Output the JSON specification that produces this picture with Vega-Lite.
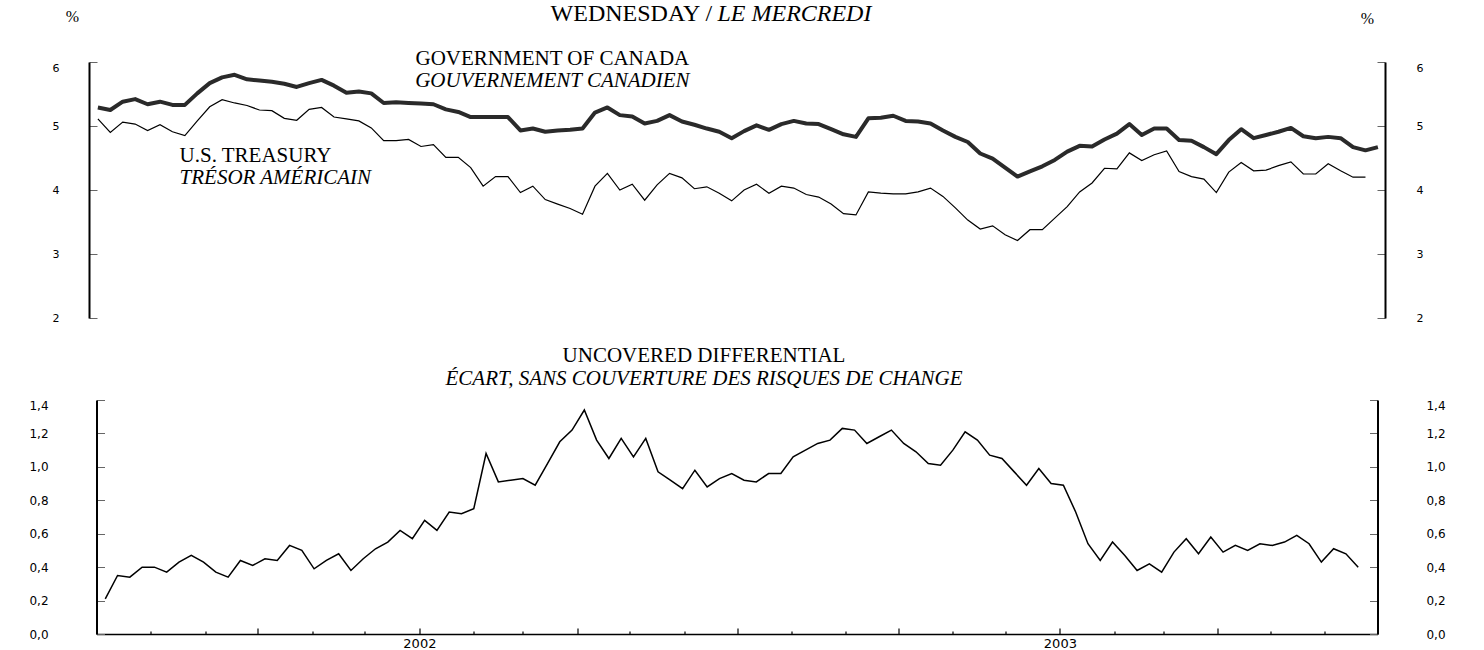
{
  "$schema": "https://vega.github.io/schema/vega-lite/v6.json",
  "background": "white",
  "padding": {"left": 28, "top": 2, "right": 0, "bottom": 0},
  "bounds": "flush",
  "center": true,
  "spacing": 82,
  "config": {"view": {"stroke": null}, "axis": {"grid": false}},
  "datasets": {
    "weekly": [
      {"d": "2001-07-06", "ca": 5.29, "us": 5.11, "diff": 0.21},
      {"d": "2001-07-13", "ca": 5.25, "us": 4.90, "diff": 0.35},
      {"d": "2001-07-20", "ca": 5.38, "us": 5.06, "diff": 0.34},
      {"d": "2001-07-27", "ca": 5.42, "us": 5.03, "diff": 0.40},
      {"d": "2001-08-03", "ca": 5.34, "us": 4.93, "diff": 0.40},
      {"d": "2001-08-10", "ca": 5.38, "us": 5.02, "diff": 0.37},
      {"d": "2001-08-17", "ca": 5.33, "us": 4.91, "diff": 0.43},
      {"d": "2001-08-24", "ca": 5.33, "us": 4.85, "diff": 0.47},
      {"d": "2001-08-31", "ca": 5.51, "us": 5.08, "diff": 0.43},
      {"d": "2001-09-07", "ca": 5.67, "us": 5.30, "diff": 0.37},
      {"d": "2001-09-14", "ca": 5.76, "us": 5.41, "diff": 0.34},
      {"d": "2001-09-21", "ca": 5.80, "us": 5.36, "diff": 0.44},
      {"d": "2001-09-28", "ca": 5.73, "us": 5.32, "diff": 0.41},
      {"d": "2001-10-05", "ca": 5.71, "us": 5.25, "diff": 0.45},
      {"d": "2001-10-12", "ca": 5.69, "us": 5.24, "diff": 0.44},
      {"d": "2001-10-19", "ca": 5.66, "us": 5.12, "diff": 0.53},
      {"d": "2001-10-26", "ca": 5.61, "us": 5.09, "diff": 0.50},
      {"d": "2001-11-02", "ca": 5.67, "us": 5.26, "diff": 0.39},
      {"d": "2001-11-09", "ca": 5.72, "us": 5.29, "diff": 0.44},
      {"d": "2001-11-16", "ca": 5.63, "us": 5.14, "diff": 0.48},
      {"d": "2001-11-23", "ca": 5.52, "us": 5.11, "diff": 0.38},
      {"d": "2001-11-30", "ca": 5.54, "us": 5.08, "diff": 0.45},
      {"d": "2001-12-07", "ca": 5.51, "us": 4.97, "diff": 0.51},
      {"d": "2001-12-14", "ca": 5.36, "us": 4.77, "diff": 0.55},
      {"d": "2001-12-21", "ca": 5.37, "us": 4.77, "diff": 0.62},
      {"d": "2001-12-28", "ca": 5.36, "us": 4.79, "diff": 0.57},
      {"d": "2002-01-04", "ca": 5.35, "us": 4.68, "diff": 0.68},
      {"d": "2002-01-11", "ca": 5.34, "us": 4.71, "diff": 0.62},
      {"d": "2002-01-18", "ca": 5.26, "us": 4.51, "diff": 0.73},
      {"d": "2002-01-25", "ca": 5.22, "us": 4.51, "diff": 0.72},
      {"d": "2002-02-01", "ca": 5.14, "us": 4.35, "diff": 0.75},
      {"d": "2002-02-08", "ca": 5.14, "us": 4.06, "diff": 1.08},
      {"d": "2002-02-15", "ca": 5.14, "us": 4.21, "diff": 0.91},
      {"d": "2002-02-22", "ca": 5.14, "us": 4.21, "diff": 0.92},
      {"d": "2002-03-01", "ca": 4.93, "us": 3.96, "diff": 0.93},
      {"d": "2002-03-08", "ca": 4.96, "us": 4.06, "diff": 0.89},
      {"d": "2002-03-15", "ca": 4.91, "us": 3.85, "diff": 1.02},
      {"d": "2002-03-22", "ca": 4.93, "us": 3.78, "diff": 1.15},
      {"d": "2002-03-29", "ca": 4.94, "us": 3.71, "diff": 1.22},
      {"d": "2002-04-05", "ca": 4.96, "us": 3.62, "diff": 1.34},
      {"d": "2002-04-12", "ca": 5.21, "us": 4.06, "diff": 1.16},
      {"d": "2002-04-19", "ca": 5.29, "us": 4.26, "diff": 1.05},
      {"d": "2002-04-26", "ca": 5.17, "us": 4.00, "diff": 1.17},
      {"d": "2002-05-03", "ca": 5.15, "us": 4.09, "diff": 1.06},
      {"d": "2002-05-10", "ca": 5.04, "us": 3.84, "diff": 1.17},
      {"d": "2002-05-17", "ca": 5.08, "us": 4.08, "diff": 0.97},
      {"d": "2002-05-24", "ca": 5.17, "us": 4.26, "diff": 0.92},
      {"d": "2002-05-31", "ca": 5.07, "us": 4.19, "diff": 0.87},
      {"d": "2002-06-07", "ca": 5.02, "us": 4.02, "diff": 0.98},
      {"d": "2002-06-14", "ca": 4.96, "us": 4.05, "diff": 0.88},
      {"d": "2002-06-21", "ca": 4.91, "us": 3.95, "diff": 0.93},
      {"d": "2002-06-28", "ca": 4.81, "us": 3.83, "diff": 0.96},
      {"d": "2002-07-05", "ca": 4.92, "us": 4.00, "diff": 0.92},
      {"d": "2002-07-12", "ca": 5.01, "us": 4.09, "diff": 0.91},
      {"d": "2002-07-19", "ca": 4.94, "us": 3.95, "diff": 0.96},
      {"d": "2002-07-26", "ca": 5.03, "us": 4.06, "diff": 0.96},
      {"d": "2002-08-02", "ca": 5.08, "us": 4.03, "diff": 1.06},
      {"d": "2002-08-09", "ca": 5.04, "us": 3.93, "diff": 1.10},
      {"d": "2002-08-16", "ca": 5.03, "us": 3.89, "diff": 1.14},
      {"d": "2002-08-23", "ca": 4.95, "us": 3.78, "diff": 1.16},
      {"d": "2002-08-30", "ca": 4.87, "us": 3.63, "diff": 1.23},
      {"d": "2002-09-06", "ca": 4.83, "us": 3.61, "diff": 1.22},
      {"d": "2002-09-13", "ca": 5.12, "us": 3.97, "diff": 1.14},
      {"d": "2002-09-20", "ca": 5.13, "us": 3.95, "diff": 1.18},
      {"d": "2002-09-27", "ca": 5.16, "us": 3.94, "diff": 1.22},
      {"d": "2002-10-04", "ca": 5.08, "us": 3.94, "diff": 1.14},
      {"d": "2002-10-11", "ca": 5.07, "us": 3.97, "diff": 1.09},
      {"d": "2002-10-18", "ca": 5.04, "us": 4.03, "diff": 1.02},
      {"d": "2002-10-25", "ca": 4.93, "us": 3.90, "diff": 1.01},
      {"d": "2002-11-01", "ca": 4.83, "us": 3.72, "diff": 1.10},
      {"d": "2002-11-08", "ca": 4.75, "us": 3.53, "diff": 1.21},
      {"d": "2002-11-15", "ca": 4.57, "us": 3.39, "diff": 1.16},
      {"d": "2002-11-22", "ca": 4.49, "us": 3.44, "diff": 1.07},
      {"d": "2002-11-29", "ca": 4.35, "us": 3.30, "diff": 1.05},
      {"d": "2002-12-06", "ca": 4.21, "us": 3.21, "diff": 0.97},
      {"d": "2002-12-13", "ca": 4.29, "us": 3.38, "diff": 0.89},
      {"d": "2002-12-20", "ca": 4.37, "us": 3.38, "diff": 0.99},
      {"d": "2002-12-27", "ca": 4.47, "us": 3.56, "diff": 0.90},
      {"d": "2003-01-03", "ca": 4.60, "us": 3.74, "diff": 0.89},
      {"d": "2003-01-10", "ca": 4.69, "us": 3.97, "diff": 0.73},
      {"d": "2003-01-17", "ca": 4.68, "us": 4.11, "diff": 0.54},
      {"d": "2003-01-24", "ca": 4.79, "us": 4.34, "diff": 0.44},
      {"d": "2003-01-31", "ca": 4.88, "us": 4.33, "diff": 0.55},
      {"d": "2003-02-07", "ca": 5.03, "us": 4.58, "diff": 0.47},
      {"d": "2003-02-14", "ca": 4.86, "us": 4.46, "diff": 0.38},
      {"d": "2003-02-21", "ca": 4.96, "us": 4.55, "diff": 0.42},
      {"d": "2003-02-28", "ca": 4.96, "us": 4.61, "diff": 0.37},
      {"d": "2003-03-07", "ca": 4.78, "us": 4.29, "diff": 0.49},
      {"d": "2003-03-14", "ca": 4.77, "us": 4.21, "diff": 0.57},
      {"d": "2003-03-21", "ca": 4.67, "us": 4.17, "diff": 0.48},
      {"d": "2003-03-28", "ca": 4.56, "us": 3.96, "diff": 0.58},
      {"d": "2003-04-04", "ca": 4.78, "us": 4.28, "diff": 0.49},
      {"d": "2003-04-11", "ca": 4.95, "us": 4.43, "diff": 0.53},
      {"d": "2003-04-18", "ca": 4.81, "us": 4.30, "diff": 0.50},
      {"d": "2003-04-25", "ca": 4.86, "us": 4.31, "diff": 0.54},
      {"d": "2003-05-02", "ca": 4.91, "us": 4.38, "diff": 0.53},
      {"d": "2003-05-09", "ca": 4.97, "us": 4.44, "diff": 0.55},
      {"d": "2003-05-16", "ca": 4.84, "us": 4.25, "diff": 0.59},
      {"d": "2003-05-23", "ca": 4.81, "us": 4.25, "diff": 0.54},
      {"d": "2003-05-30", "ca": 4.83, "us": 4.41, "diff": 0.43},
      {"d": "2003-06-06", "ca": 4.81, "us": 4.30, "diff": 0.51},
      {"d": "2003-06-13", "ca": 4.67, "us": 4.20, "diff": 0.48},
      {"d": "2003-06-20", "ca": 4.62, "us": 4.20, "diff": 0.40},
      {"d": "2003-06-27", "ca": 4.67, "us": null, "diff": null}
    ]
  },
  "vconcat": [
    {
      "width": 1296,
      "height": 256,
      "data": {"name": "weekly"},
      "layer": [
        {
          "layer": [
            {
              "mark": {"type": "line", "color": "#2a2a2a", "strokeWidth": 4, "strokeJoin": "round"},
              "encoding": {
                "x": {"field": "d", "type": "temporal", "scale": {"type": "utc", "domain": [{"year": 2001, "month": 7, "date": 1, "utc": true}, {"year": 2003, "month": 7, "date": 1, "utc": true}]}, "axis": null},
                "y": {"field": "ca", "type": "quantitative", "scale": {"domain": [2, 6]}, "axis": null}
              }
            },
            {
              "mark": {"type": "line", "color": "black", "strokeWidth": 1.2},
              "encoding": {
                "x": {"field": "d", "type": "temporal", "axis": null},
                "y": {"field": "us", "type": "quantitative", "axis": null}
              }
            },
            {
              "data": {"values": [{}]},
              "mark": {"type": "text", "text": "GOVERNMENT OF CANADA", "align": "center", "baseline": "alphabetic", "font": "Liberation Serif", "fontSize": 21, "color": "black"},
              "encoding": {
                "x": {"datum": {"year": 2002, "month": 3, "date": 19, "utc": true}, "type": "temporal", "axis": null},
                "y": {"datum": 5.953, "type": "quantitative", "axis": null}
              }
            },
            {
              "data": {"values": [{}]},
              "mark": {"type": "text", "text": "GOUVERNEMENT CANADIEN", "align": "center", "baseline": "alphabetic", "font": "Liberation Serif", "fontSize": 21, "fontStyle": "italic", "color": "black"},
              "encoding": {
                "x": {"datum": {"year": 2002, "month": 3, "date": 19, "utc": true}, "type": "temporal", "axis": null},
                "y": {"datum": 5.609, "type": "quantitative", "axis": null}
              }
            },
            {
              "data": {"values": [{}]},
              "mark": {"type": "text", "text": "U.S. TREASURY", "align": "left", "baseline": "alphabetic", "font": "Liberation Serif", "fontSize": 21, "color": "black"},
              "encoding": {
                "x": {"datum": {"year": 2001, "month": 8, "date": 21, "utc": true}, "type": "temporal", "axis": null},
                "y": {"datum": 4.4375, "type": "quantitative", "axis": null}
              }
            },
            {
              "data": {"values": [{}]},
              "mark": {"type": "text", "text": "TRÉSOR AMÉRICAIN", "align": "left", "baseline": "alphabetic", "font": "Liberation Serif", "fontSize": 21, "fontStyle": "italic", "color": "black"},
              "encoding": {
                "x": {"datum": {"year": 2001, "month": 8, "date": 21, "utc": true}, "type": "temporal", "axis": null},
                "y": {"datum": 4.094, "type": "quantitative", "axis": null}
              }
            },
            {
              "data": {"values": [{}]},
              "mark": {"type": "text", "text": "WEDNESDAY /", "align": "right", "baseline": "alphabetic", "font": "Liberation Serif", "fontSize": 24, "color": "black"},
              "encoding": {
                "x": {"datum": {"year": 2002, "month": 6, "date": 17, "utc": true}, "type": "temporal", "axis": null},
                "y": {"datum": 6.64, "type": "quantitative", "axis": null}
              }
            },
            {
              "data": {"values": [{}]},
              "mark": {"type": "text", "text": "LE MERCREDI", "align": "left", "baseline": "alphabetic", "font": "Liberation Serif", "fontSize": 24, "fontStyle": "italic", "color": "black"},
              "encoding": {
                "x": {"datum": {"year": 2002, "month": 6, "date": 20, "utc": true}, "type": "temporal", "axis": null},
                "y": {"datum": 6.64, "type": "quantitative", "axis": null}
              }
            }
          ]
        },
        {
          "mark": {"type": "line", "opacity": 0},
          "encoding": {
            "x": {"field": "d", "type": "temporal", "axis": null},
            "y": {
              "field": "us", "type": "quantitative", "scale": {"domain": [2, 6]},
              "axis": {
                "orient": "left", "values": [2, 3, 4, 5, 6],
                "title": "%", "titleAngle": 0, "titleX": -17, "titleY": -46, "titleAlign": "center", "titleBaseline": "middle",
                "titleFont": "Liberation Serif", "titleFontSize": 16, "titleFontWeight": "normal", "titleColor": "black",
                "domainColor": "black", "domainWidth": 2,
                "tickSize": -8, "tickColor": "#666666", "tickWidth": 1,
                "labelFont": "DejaVu Sans", "labelFontSize": 11, "labelColor": "black",
                "labelAlign": "center", "labelPadding": 41.5, "labelFlush": false, "labelOverlap": false,
                "labelBaseline": {"condition": {"test": "datum.value == 6", "value": "top"}, "value": "middle"},
                "grid": false
              }
            }
          }
        },
        {
          "mark": {"type": "line", "opacity": 0},
          "encoding": {
            "x": {"field": "d", "type": "temporal", "axis": null},
            "y": {
              "field": "us", "type": "quantitative", "scale": {"domain": [2, 6]},
              "axis": {
                "orient": "right", "values": [2, 3, 4, 5, 6],
                "title": "%", "titleAngle": 0, "titleX": -18, "titleY": -44, "titleAlign": "center", "titleBaseline": "middle",
                "titleFont": "Liberation Serif", "titleFontSize": 16, "titleFontWeight": "normal", "titleColor": "black",
                "domainColor": "black", "domainWidth": 2,
                "tickSize": -8, "tickColor": "#666666", "tickWidth": 1,
                "labelFont": "DejaVu Sans", "labelFontSize": 11, "labelColor": "black",
                "labelAlign": "center", "labelPadding": 42.5, "labelFlush": false, "labelOverlap": false,
                "labelBaseline": {"condition": {"test": "datum.value == 6", "value": "top"}, "value": "middle"},
                "grid": false
              }
            }
          }
        }
      ],
      "resolve": {"scale": {"y": "independent"}}
    },
    {
      "width": 1281,
      "height": 234,
      "data": {"name": "weekly"},
      "title": {
        "text": "UNCOVERED DIFFERENTIAL",
        "subtitle": "ÉCART, SANS COUVERTURE DES RISQUES DE CHANGE",
        "anchor": "middle", "frame": "group", "dx": -33, "offset": 10,
        "font": "Liberation Serif", "fontSize": 21, "fontWeight": "normal", "color": "black",
        "subtitleFont": "Liberation Serif", "subtitleFontSize": 21, "subtitleFontStyle": "italic", "subtitleColor": "black", "subtitlePadding": 2
      },
      "encoding": {
        "x": {
          "field": "d", "type": "temporal",
          "scale": {"type": "utc", "domain": [{"year": 2001, "month": 7, "date": 1, "utc": true}, {"year": 2003, "month": 7, "date": 1, "utc": true}]},
          "axis": {
            "orient": "bottom", "title": null,
            "tickCount": {"interval": "month", "step": 1},
            "tickSize": {"condition": {"test": "utcmonth(datum.value) % 3 == 0", "value": -6}, "value": -3},
            "tickColor": "black", "tickWidth": 1.2,
            "domainColor": "black", "domainWidth": 1.5,
            "labelExpr": "utcmonth(datum.value) == 0 ? utcFormat(datum.value, '%Y') : ''",
            "labelFont": "DejaVu Sans", "labelFontSize": 13, "labelColor": "black",
            "labelPadding": 9, "labelOverlap": false, "labelFlush": false,
            "grid": false
          }
        }
      },
      "layer": [
        {
          "mark": {"type": "line", "color": "black", "strokeWidth": 1.5},
          "encoding": {
            "y": {
              "field": "diff", "type": "quantitative", "scale": {"domain": [0, 1.4]},
              "axis": {
                "orient": "left", "values": [0, 0.2, 0.4, 0.6, 0.8, 1, 1.2, 1.4], "title": null,
                "labelExpr": "replace(format(datum.value, '.1f'), '.', ',')",
                "domainColor": "black", "domainWidth": 2,
                "tickSize": -8, "tickColor": "#666666", "tickWidth": 1,
                "labelFont": "DejaVu Sans", "labelFontSize": 12, "labelColor": "black",
                "labelAlign": "center", "labelPadding": 66, "labelFlush": false, "labelOverlap": false,
                "labelBaseline": {"condition": {"test": "datum.value == 1.4", "value": "top"}, "value": "middle"},
                "grid": false
              }
            }
          }
        },
        {
          "mark": {"type": "line", "opacity": 0},
          "encoding": {
            "y": {
              "field": "diff", "type": "quantitative", "scale": {"domain": [0, 1.4]},
              "axis": {
                "orient": "right", "values": [0, 0.2, 0.4, 0.6, 0.8, 1, 1.2, 1.4], "title": null,
                "labelExpr": "replace(format(datum.value, '.1f'), '.', ',')",
                "domainColor": "black", "domainWidth": 2,
                "tickSize": -8, "tickColor": "#666666", "tickWidth": 1,
                "labelFont": "DejaVu Sans", "labelFontSize": 12, "labelColor": "black",
                "labelAlign": "center", "labelPadding": 66, "labelFlush": false, "labelOverlap": false,
                "labelBaseline": {"condition": {"test": "datum.value == 1.4", "value": "top"}, "value": "middle"},
                "grid": false
              }
            }
          }
        }
      ],
      "resolve": {"scale": {"y": "independent"}}
    }
  ]
}
